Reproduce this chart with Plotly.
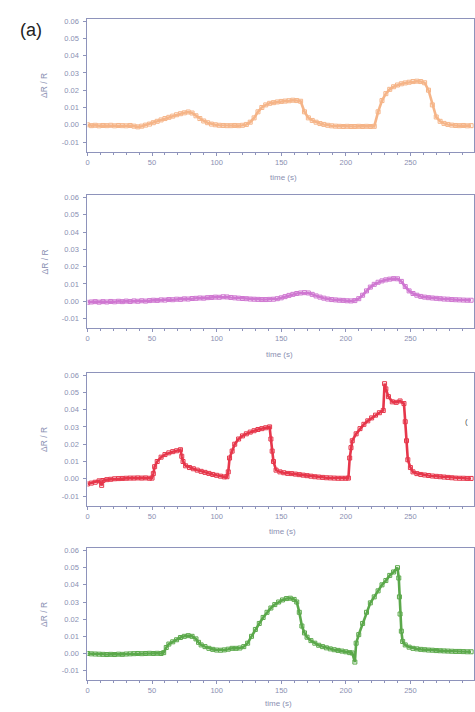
import plotly.graph_objects as go

W, H = 475, 712

# ---------------- data ----------------
time_orange = [0, 3, 6, 9, 12, 15, 18, 21, 24, 27, 30, 33, 36, 39, 42, 45, 48, 51, 54, 57,
               60, 63, 66, 69, 72, 75, 78, 81, 84, 87, 90, 93, 96, 99, 102, 105, 108, 111, 114, 117,
               120, 123, 126, 129, 132, 135, 138, 141, 144, 147, 150, 153, 156, 159, 162, 165, 168, 171, 174, 177,
               180, 183, 186, 189, 192, 195, 198, 201, 204, 207, 210, 213, 216, 219, 222, 225, 228, 231, 234, 237,
               240, 243, 246, 249, 252, 255, 258, 261, 264, 267, 270, 273, 276, 279, 282, 285, 288, 291, 294, 297]
dr_orange = [0.0, -0.0005, -0.0003, -0.0006, -0.0004, -0.0005, -0.0003, -0.0006, -0.0004, -0.0005,
             -0.0006, -0.0004, -0.0008, -0.0012, -0.0008, -0.0002, 0.0004, 0.0012, 0.0020, 0.0028,
             0.0036, 0.0043, 0.0050, 0.0058, 0.0064, 0.0069, 0.0074, 0.0068, 0.0052, 0.0036,
             0.0022, 0.0012, 0.0004, 0.0, -0.0003, -0.0004, -0.0005, -0.0005, -0.0004, -0.0005,
             -0.0003, 0.0002, 0.0015, 0.0040, 0.0075, 0.0100, 0.0115, 0.0124, 0.0128, 0.0132,
             0.0135, 0.0137, 0.0139, 0.0142, 0.0140, 0.0136, 0.0075, 0.0040, 0.0025, 0.0015,
             0.0007, 0.0002, -0.0003, -0.0006, -0.0008, -0.0009, -0.0010, -0.0009, -0.0010, -0.0010,
             -0.0009, -0.0010, -0.0009, -0.0010, -0.0009, 0.0075, 0.0140, 0.0180, 0.0205, 0.0220,
             0.0230, 0.0237, 0.0242, 0.0246, 0.0250, 0.0252, 0.0250, 0.0243, 0.0200, 0.0115,
             0.0045, 0.0020, 0.0008, 0.0002, -0.0002, -0.0004, -0.0005, -0.0004, -0.0006, -0.0005]

time_magenta = time_orange
dr_magenta = [-0.0006, -0.0004, -0.0002, -0.0005, -0.0002, -0.0004, -0.0001, -0.0003, 0.0, -0.0002,
              0.0001, -0.0001, 0.0002, 0.0, 0.0003, 0.0001, 0.0004, 0.0006, 0.0005, 0.0008,
              0.0007, 0.0010, 0.0009, 0.0012, 0.0011, 0.0014, 0.0013, 0.0016, 0.0017, 0.0019,
              0.0018, 0.0021, 0.0022, 0.0024, 0.0023, 0.0026, 0.0025, 0.0022, 0.0020, 0.0018,
              0.0016, 0.0015, 0.0013, 0.0012, 0.0011, 0.0010, 0.0010, 0.0011, 0.0012, 0.0015,
              0.0020, 0.0027, 0.0034, 0.0040, 0.0045, 0.0048, 0.0050, 0.0048, 0.0040, 0.0031,
              0.0024, 0.0018, 0.0013, 0.0010, 0.0008, 0.0006, 0.0005, 0.0003, 0.0002, 0.0004,
              0.0015, 0.0035, 0.0060, 0.0082, 0.0098, 0.0110, 0.0118, 0.0124, 0.0128, 0.0131,
              0.0130, 0.0115, 0.0085, 0.0060, 0.0045, 0.0035, 0.0028, 0.0024, 0.0021, 0.0019,
              0.0017, 0.0015, 0.0013, 0.0012, 0.0010, 0.0009, 0.0008, 0.0007, 0.0006, 0.0006]

time_red = [0, 3, 6, 9, 11, 12, 15, 18, 21, 24, 27, 30, 33, 36, 39, 42, 45, 48, 50, 51,
            52, 54, 57, 60, 63, 66, 69, 72, 73, 74, 76, 79, 82, 85, 88, 91, 94, 97, 100, 103,
            106, 108, 109, 110, 112, 114, 117, 120, 123, 126, 129, 132, 135, 138, 141, 142, 143, 144, 146, 149,
            152, 155, 158, 161, 164, 167, 170, 173, 176, 179, 182, 185, 188, 191, 194, 197, 200, 202, 203, 204,
            205, 208, 211, 214, 217, 220, 223, 226, 229, 230, 231, 233, 236, 239, 242, 245, 246, 247, 248, 250,
            252, 255, 258, 261, 264, 267, 270, 273, 276, 279, 282, 285, 288, 291, 294, 297]
dr_red = [-0.0030, -0.0025, -0.0020, -0.0012, -0.0038, -0.0010, -0.0005, -0.0003, 0.0, 0.0001,
          0.0002, 0.0003, 0.0004, 0.0004, 0.0005, 0.0004, 0.0005, 0.0003, 0.0004, 0.0030,
          0.0070, 0.0100, 0.0125, 0.0140, 0.0150, 0.0157, 0.0162, 0.0168, 0.0130, 0.0100,
          0.0075, 0.0065, 0.0058, 0.0050, 0.0043, 0.0037, 0.0031, 0.0025, 0.0020, 0.0015,
          0.0011, 0.0012, 0.0040, 0.0120, 0.0160, 0.0200, 0.0230, 0.0248, 0.0260, 0.0270,
          0.0278, 0.0285, 0.0290, 0.0295, 0.0300, 0.0230, 0.0160, 0.0100, 0.0050, 0.0040,
          0.0035, 0.0031, 0.0030, 0.0027, 0.0024, 0.0021, 0.0018, 0.0015, 0.0012, 0.0010,
          0.0008, 0.0006, 0.0005, 0.0004, 0.0003, 0.0003, 0.0003, 0.0004, 0.0120, 0.0180,
          0.0220, 0.0260, 0.0290, 0.0315, 0.0335, 0.0352, 0.0368, 0.0382, 0.0395, 0.0550,
          0.0520, 0.0475, 0.0445, 0.0442, 0.0450, 0.0435, 0.0330, 0.0220, 0.0110, 0.0065,
          0.0040, 0.0030, 0.0025, 0.0022, 0.0019, 0.0016, 0.0014, 0.0012, 0.0010, 0.0008,
          0.0006, 0.0004, 0.0003, 0.0003, 0.0002, 0.0002]

time_green = [0, 3, 6, 9, 12, 15, 18, 21, 24, 27, 30, 33, 36, 39, 42, 45, 48, 51, 54, 57,
              59, 61, 63, 66, 69, 72, 75, 78, 81, 84, 86, 88, 91, 94, 97, 100, 103, 106, 109, 112,
              115, 118, 121, 124, 127, 130, 133, 136, 139, 142, 145, 148, 151, 154, 157, 160, 162, 164, 166, 168,
              170, 173, 176, 179, 182, 185, 188, 191, 194, 197, 200, 203, 205, 207, 208, 210, 213, 216, 219, 222,
              225, 228, 231, 234, 237, 240, 241, 241.5, 242, 243, 244, 246, 249, 252, 255, 258, 261, 264, 267, 270,
              273, 276, 279, 282, 285, 288, 291, 294, 297]
dr_green = [0.0, -0.0002, -0.0003, -0.0004, -0.0005, -0.0006, -0.0005, -0.0006, -0.0004, -0.0005,
            -0.0003, -0.0002, -0.0001, 0.0, -0.0001, 0.0, 0.0001, 0.0, 0.0001, 0.0,
            0.0005, 0.0035, 0.0055, 0.0068, 0.0080, 0.0093, 0.0100, 0.0104, 0.0100, 0.0085,
            0.0065, 0.0050, 0.0040, 0.0030, 0.0024, 0.0020, 0.0019, 0.0021, 0.0025, 0.0030,
            0.0030, 0.0032, 0.0040, 0.0060, 0.0100, 0.0140, 0.0175, 0.0210, 0.0240, 0.0265,
            0.0285, 0.0300, 0.0312, 0.0320, 0.0322, 0.0315, 0.0300, 0.0240, 0.0160, 0.0120,
            0.0095, 0.0075, 0.0060, 0.0048, 0.0040, 0.0033, 0.0027, 0.0022, 0.0018, 0.0014,
            0.0010, 0.0005, 0.0003, -0.0050, 0.0060, 0.0110, 0.0175, 0.0240, 0.0295, 0.0330,
            0.0365, 0.0400, 0.0425, 0.0455, 0.0475, 0.0500, 0.0440, 0.0330, 0.0230, 0.0130,
            0.0070, 0.0050, 0.0037, 0.0030, 0.0027, 0.0024, 0.0022, 0.0020, 0.0019, 0.0017,
            0.0016, 0.0015, 0.0014, 0.0013, 0.0012, 0.0012, 0.0011, 0.0010, 0.0010]

y_ticks = [-0.01, 0.0, 0.01, 0.02, 0.03, 0.04, 0.05, 0.06]
y_tick_labels = ["-0.01", "0.00", "0.01", "0.02", "0.03", "0.04", "0.05", "0.06"]
x_ticks = [0, 50, 100, 150, 200, 250, 300]
x_tick_labels = ["0", "50", "100", "150", "200", "250", "300"]
x_title = "time (s)"
y_title = "\u0394R / R"
panel_label = "(a)"

series = [
    (time_orange, dr_orange, "#f4a874"),
    (time_magenta, dr_magenta, "#c760c9"),
    (time_red, dr_red, "#e2142c"),
    (time_green, dr_green, "#3f9a2c"),
]

# ---------------- layout geometry (pixels) ----------------
plot_left = 86
panels_px = [(17, 150), (194, 327), (372, 505), (548, 680)]  # (top, bottom)
xtitle_y = [176, 353, 531, 703]
xtitle_x = [283, 279, 282, 278]

axis_col = "#8e93bb"
text_col = "#8a8fb2"
font_fam = "Liberation Sans, Arial, sans-serif"

fig = go.Figure()
layout = dict(
    width=W, height=H,
    margin=dict(l=0, r=0, t=0, b=0),
    paper_bgcolor="white", plot_bgcolor="white",
    showlegend=False,
    font=dict(family=font_fam, color=text_col, size=8),
)

annotations = []
for i, ((tx, ty, col), (top, bot)) in enumerate(zip(series, panels_px)):
    n = i + 1
    xa = "x" if n == 1 else f"x{n}"
    ya = "y" if n == 1 else f"y{n}"
    fig.add_trace(go.Scatter(
        x=tx, y=ty, mode="lines+markers", xaxis=xa, yaxis=ya,
        line=dict(color=col, width=2.6),
        marker=dict(symbol="square-open", size=4, color=col, line=dict(width=1, color=col)),
        opacity=0.85,
    ))
    xkey = "xaxis" if n == 1 else f"xaxis{n}"
    ykey = "yaxis" if n == 1 else f"yaxis{n}"
    layout[xkey] = dict(
        domain=[plot_left / W, 1.0], range=[0, (W - plot_left) / 1.3],
        anchor=ya, tickmode="array", tickvals=x_ticks, ticktext=x_tick_labels,
        ticks="outside", ticklen=3, tickcolor=axis_col, tickwidth=1,
        minor=dict(ticks="outside", ticklen=2, dtick=10, tickcolor=axis_col),
        showline=True, linecolor=axis_col, linewidth=1, mirror=True,
        showgrid=False, zeroline=False, fixedrange=True,
        tickfont=dict(size=7.5, color=text_col),
    )
    layout[ykey] = dict(
        domain=[1 - bot / H, 1 - top / H], range=[-0.0155, 0.0612],
        anchor=xa, tickmode="array", tickvals=y_ticks, ticktext=y_tick_labels,
        ticks="outside", ticklen=3, tickcolor=axis_col, tickwidth=1,
        ticklabelstandoff=3,
        showline=True, linecolor=axis_col, linewidth=1, mirror=True,
        showgrid=False, zeroline=False, fixedrange=True,
        tickfont=dict(size=7.5, color=text_col),
    )
    annotations.append(dict(
        x=xtitle_x[i] / W, y=1 - xtitle_y[i] / H, xref="paper", yref="paper",
        text=x_title, showarrow=False, font=dict(size=8, color=text_col),
        xanchor="center", yanchor="middle",
    ))
    annotations.append(dict(
        x=43 / W, y=1 - (top + bot) / 2 / H, xref="paper", yref="paper",
        text=y_title, showarrow=False, textangle=-90,
        font=dict(size=8.5, color=text_col), xanchor="center", yanchor="middle",
    ))

annotations.append(dict(
    x=29 / W, y=1 - 28 / H, xref="paper", yref="paper", text=panel_label,
    showarrow=False, font=dict(size=18, color="#222222"),
    xanchor="center", yanchor="middle",
))
annotations.append(dict(
    x=467 / W, y=1 - 421 / H, xref="paper", yref="paper", text="(",
    showarrow=False, font=dict(size=8, color="#555555"),
    xanchor="center", yanchor="middle",
))
layout["annotations"] = annotations

fig.update_layout(**layout)
fig.write_html(
    "out.html",
    config={"displayModeBar": False, "staticPlot": True},
    post_script="document.body.style.margin='0';document.body.style.overflow='hidden';",
)
